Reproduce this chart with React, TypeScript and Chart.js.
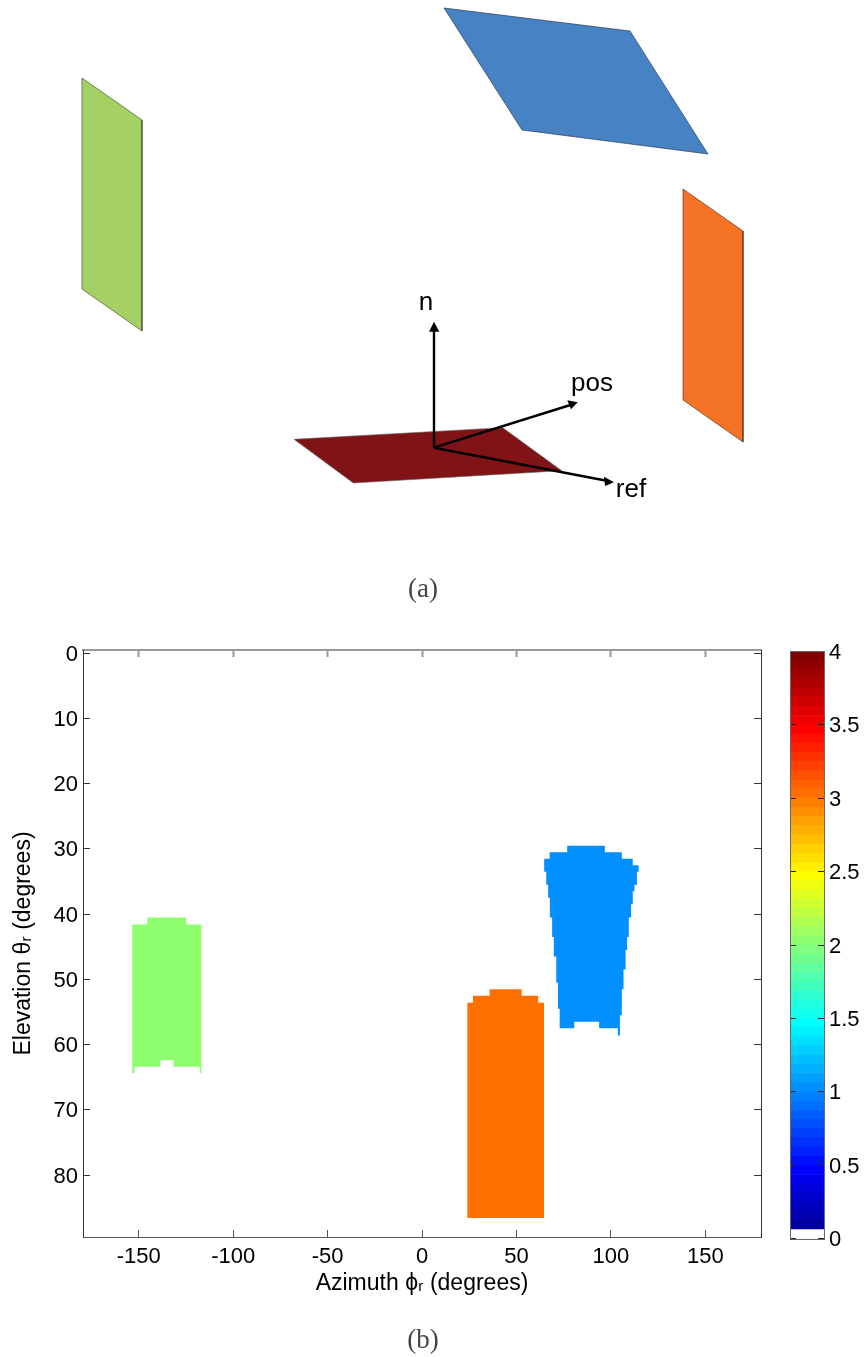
import React, { useEffect, useRef } from "react";
import { Chart, registerables } from "chart.js";

Chart.register(...registerables);

const FONT = "'Liberation Sans', Arial, sans-serif";

// ---------- panel (a): projected 3D scene, in scene units ----------
const sceneBlue = [{ x: 444, y: 8 }, { x: 630, y: 31 }, { x: 708, y: 154 }, { x: 522, y: 130 }, { x: 444, y: 8 }];
const sceneGreen = [{ x: 82, y: 78 }, { x: 142, y: 120 }, { x: 142, y: 331 }, { x: 82, y: 289 }, { x: 82, y: 78 }];
const sceneOrange = [{ x: 683, y: 189 }, { x: 743, y: 231 }, { x: 743, y: 442 }, { x: 683, y: 400 }, { x: 683, y: 189 }];
const sceneRed = [{ x: 294, y: 439.3 }, { x: 502.7, y: 427.7 }, { x: 561.7, y: 470.7 }, { x: 353.3, y: 483 }, { x: 294, y: 439.3 }];
const arrowN = [{ x: 434, y: 447.7 }, { x: 434, y: 326 }];
const arrowPos = [{ x: 434, y: 447.7 }, { x: 572, y: 404.5 }];
const arrowRef = [{ x: 434, y: 447.7 }, { x: 608, y: 481 }];
const headN = [{ x: 434, y: 321.7 }, { x: 429, y: 331.7 }, { x: 439.3, y: 331.7 }, { x: 434, y: 321.7 }];
const headPos = [{ x: 577.7, y: 402.3 }, { x: 567.3, y: 400.3 }, { x: 571, y: 409.3 }, { x: 577.7, y: 402.3 }];
const headRef = [{ x: 614, y: 482.3 }, { x: 604, y: 476.7 }, { x: 605, y: 486 }, { x: 614, y: 482.3 }];
const sceneLabels = [
  { text: "n", x: 426, y: 303 },
  { text: "pos", x: 592, y: 384 },
  { text: "ref", x: 631, y: 490 },
];

// ---------- panel (b): regions (azimuth, elevation) ----------
const greenRegion = [
  [-145.5, 40.5], [-124.9, 40.5], [-124.9, 41.6], [-116.8, 41.6], [-116.8, 64.4], [-117.7, 64.4],
  [-117.7, 63.4], [-131.6, 63.4], [-131.6, 62.4], [-138.6, 62.4], [-138.6, 63.4], [-152.2, 63.4],
  [-152.2, 64.4], [-153.4, 64.4], [-153.4, 41.6], [-145.5, 41.6], [-145.5, 40.5],
];
const blueRegion = [
  [76.9, 29.5], [96.8, 29.5], [96.8, 30.5], [105.8, 30.5], [105.8, 31.5], [111.6, 31.5], [111.6, 32.5],
  [114.7, 32.5], [114.7, 33.5], [113.8, 33.5], [113.8, 35.5], [112.5, 35.5], [112.5, 36.5], [111.6, 36.5],
  [111.6, 38.5], [110.7, 38.5], [110.7, 40.5], [109.5, 40.5], [109.5, 43.5], [108.6, 43.5], [108.6, 45.5],
  [107.8, 45.5], [107.8, 48.5], [106.7, 48.5], [106.7, 51.5], [105.8, 51.5], [105.8, 55.5], [104.8, 55.5],
  [104.8, 58.6], [103.7, 58.6], [103.7, 57.5], [93.8, 57.5], [93.8, 56.5], [80.6, 56.5], [80.6, 57.5],
  [72.9, 57.5], [72.9, 54.5], [72, 54.5], [72, 50.5], [71.1, 50.5], [71.1, 46.5], [69.8, 46.5], [69.8, 43.5],
  [68.9, 43.5], [68.9, 40.5], [67.7, 40.5], [67.7, 37.5], [66.8, 37.5], [66.8, 35.5], [65.8, 35.5],
  [65.8, 33.5], [64.7, 33.5], [64.7, 31.5], [67.6, 31.5], [67.6, 30.5], [76.9, 30.5], [76.9, 29.5],
];
const orangeRegion = [
  [35.8, 51.5], [52.8, 51.5], [52.8, 52.5], [61.5, 52.5], [61.5, 53.6], [64.6, 53.6], [64.6, 86.6],
  [24, 86.6], [24, 53.6], [27, 53.6], [27, 52.5], [35.8, 52.5], [35.8, 51.5],
];
const azimuthTicks = [-150, -100, -50, 0, 50, 100, 150];
const elevationTicks = [0, 10, 20, 30, 40, 50, 60, 70, 80];
const colorbarTicks = [0, 0.5, 1, 1.5, 2, 2.5, 3, 3.5, 4];

// ---------- colour bar levels, bottom to top ----------
const levelStep = 0.0625;
const levelColors = [
  "#ffffff", "#00009f", "#0000af", "#0000bf", "#0000cf", "#0000df", "#0000ef", "#0000ff",
  "#0010ff", "#0020ff", "#0030ff", "#0040ff", "#0050ff", "#0060ff", "#0070ff", "#0080ff",
  "#008fff", "#009fff", "#00afff", "#00bfff", "#00cfff", "#00dfff", "#00efff", "#00ffff",
  "#10ffef", "#20ffdf", "#30ffcf", "#40ffbf", "#50ffaf", "#60ff9f", "#70ff8f", "#80ff80",
  "#8fff70", "#9fff60", "#afff50", "#bfff40", "#cfff30", "#dfff20", "#efff10", "#ffff00",
  "#ffef00", "#ffdf00", "#ffcf00", "#ffbf00", "#ffaf00", "#ff9f00", "#ff8f00", "#ff8000",
  "#ff7000", "#ff6000", "#ff5000", "#ff4000", "#ff3000", "#ff2000", "#ff1000", "#ff0000",
  "#ef0000", "#df0000", "#cf0000", "#bf0000", "#af0000", "#9f0000", "#8f0000", "#800000",
];

const toPoints = (pairs: number[][]) => pairs.map(([x, y]) => ({ x, y }));

const poly = (data: any[], fillColor: string, edge = "transparent", edgeWidth = 0) => ({
  type: "scatter" as const,
  data,
  showLine: true,
  fill: "shape",
  backgroundColor: fillColor,
  borderColor: edge,
  borderWidth: edgeWidth,
  pointRadius: 0,
  tension: 0,
});
const line = (data: any[]) => ({
  type: "scatter" as const,
  data,
  showLine: true,
  fill: false,
  borderColor: "#000000",
  borderWidth: 2.4,
  pointRadius: 0,
  tension: 0,
});

const framePlugin = {
  id: "frame",
  afterDraw(chart: any) {
    const { left, top, width, height } = chart.chartArea;
    const ctx = chart.ctx;
    ctx.save();
    ctx.strokeStyle = "#666666";
    ctx.lineWidth = 1;
    ctx.strokeRect(Math.round(left) + 0.5, Math.round(top) + 0.5, Math.round(width), Math.round(height));
    ctx.restore();
  },
};

// Digits sit a little above the tick with a "middle" baseline; centre them on it.
const labelNudgePlugin = {
  id: "labelNudge",
  beforeDraw(chart: any) {
    for (const id of Object.keys(chart.scales)) {
      const s = chart.scales[id];
      if (s.isHorizontal() || !s.options.ticks.display) continue;
      for (const item of s.getLabelItems(chart.chartArea)) {
        if (item.nudged) continue;
        item.nudged = true;
        item.options.translation = [item.options.translation[0], item.options.translation[1] + 1.5];
      }
    }
  },
};

const sceneLabelPlugin = {
  id: "sceneLabels",
  afterDatasetsDraw(chart: any) {
    const ctx = chart.ctx;
    ctx.save();
    ctx.fillStyle = "#000";
    ctx.font = `26px ${FONT}`;
    ctx.textAlign = "center";
    ctx.textBaseline = "middle";
    for (const l of sceneLabels) {
      ctx.fillText(l.text, chart.scales.x.getPixelForValue(l.x), chart.scales.y.getPixelForValue(l.y));
    }
    ctx.restore();
  },
};

function makeScene(c: HTMLCanvasElement) {
  return new Chart(c, {
    type: "scatter",
    data: {
      // the first dataset is painted last
      datasets: [
        poly(headN, "#000000"),
        poly(headPos, "#000000"),
        poly(headRef, "#000000"),
        line(arrowN),
        line(arrowPos),
        line(arrowRef),
        poly(sceneRed, "#7f1315", "#666666", 0.6),
        poly(sceneOrange, "#f57325", "#3f2410", 0.6),
        poly(sceneGreen, "#a5d164", "#2f3f1f", 0.6),
        poly(sceneBlue, "#4682c4", "#1a2a3a", 0.6),
      ] as any,
    },
    options: {
      animation: false,
      responsive: false,
      layout: { padding: 0 },
      plugins: { legend: { display: false }, tooltip: { enabled: false } },
      scales: {
        x: { type: "linear", min: 0, max: 865, display: false },
        y: { type: "linear", min: 0, max: 620, reverse: true, display: false },
      },
    },
    plugins: [sceneLabelPlugin],
  } as any);
}

function makeMap(c: HTMLCanvasElement) {
  return new Chart(c, {
    type: "scatter",
    data: {
      datasets: [
        poly(toPoints(greenRegion), levelColors[32]),
        poly(toPoints(blueRegion), levelColors[16]),
        poly(toPoints(orangeRegion), levelColors[48]),
      ] as any,
    },
    options: {
      animation: false,
      responsive: false,
      layout: { padding: { left: 0, right: 19, top: 30, bottom: 0 } },
      plugins: { legend: { display: false }, tooltip: { enabled: false } },
      scales: {
        x: {
          type: "linear",
          min: -179.5,
          max: 179.5,
          afterBuildTicks: (s: any) => { s.ticks = azimuthTicks.map((value) => ({ value })); },
          afterFit: (s: any) => { s.height = 120; },
          ticks: { font: { family: FONT, size: 22 }, color: "#000", padding: 14, maxRotation: 0, autoSkip: false },
          grid: { drawOnChartArea: false, tickLength: -7, tickColor: "#555", z: 1 },
          border: { color: "#555", z: 2 },
          title: { display: true, text: "Azimuth ϕᵣ (degrees)", font: { family: FONT, size: 23 }, color: "#000", padding: { top: 0, bottom: 60 } },
        },
        xTop: {
          type: "linear",
          axis: "x",
          position: "top",
          min: -179.5,
          max: 179.5,
          afterBuildTicks: (s: any) => { s.ticks = azimuthTicks.map((value) => ({ value })); },
          afterFit: (s: any) => { s.height = 0; },
          ticks: { display: false },
          grid: { drawOnChartArea: false, tickLength: -7, tickColor: "#999", tickWidth: 2, z: 1 },
          border: { color: "#999", width: 2, z: 2 },
        },
        y: {
          type: "linear",
          min: -0.5,
          max: 89.5,
          reverse: true,
          afterBuildTicks: (s: any) => { s.ticks = elevationTicks.map((value) => ({ value })); },
          afterFit: (s: any) => { s.width = 83; },
          ticks: { font: { family: FONT, size: 22 }, color: "#000", padding: 12, autoSkip: false },
          grid: { drawOnChartArea: false, tickLength: -7, tickColor: "#333", z: 1 },
          border: { color: "#333", z: 2 },
          title: { display: true, text: "Elevation θᵣ (degrees)", font: { family: FONT, size: 23 }, color: "#000", padding: { top: 10, bottom: 0 } },
        },
        yRight: {
          type: "linear",
          axis: "y",
          position: "right",
          min: -0.5,
          max: 89.5,
          reverse: true,
          afterBuildTicks: (s: any) => { s.ticks = elevationTicks.map((value) => ({ value })); },
          afterFit: (s: any) => { s.width = 0; },
          ticks: { display: false },
          grid: { drawOnChartArea: false, tickLength: -7, tickColor: "#333", z: 1 },
          border: { color: "#333", z: 2 },
        },
      },
    },
    plugins: [labelNudgePlugin],
  } as any);
}

function makeBar(c: HTMLCanvasElement) {
  return new Chart(c, {
    type: "bar",
    data: {
      labels: ["level"],
      datasets: levelColors.map((color) => ({
        data: [levelStep],
        backgroundColor: color,
        borderWidth: 0,
        stack: "bar",
        barPercentage: 1,
        categoryPercentage: 1,
      })),
    },
    options: {
      animation: false,
      responsive: false,
      layout: { padding: 0 },
      plugins: { legend: { display: false }, tooltip: { enabled: false } },
      scales: {
        x: { display: false, stacked: true, offset: true },
        y: {
          type: "linear",
          position: "right",
          stacked: true,
          min: 0,
          max: 4,
          afterBuildTicks: (s: any) => { s.ticks = colorbarTicks.map((value) => ({ value })); },
          afterFit: (s: any) => { s.width = 41; },
          ticks: { font: { family: FONT, size: 22 }, color: "#000", padding: 11, autoSkip: false, callback: (v: any) => String(v) },
          grid: { drawOnChartArea: false, tickLength: -6, tickColor: "#222", z: 1 },
          border: { color: "#666", z: 2 },
        },
        yLeft: {
          type: "linear",
          position: "left",
          min: 0,
          max: 4,
          afterBuildTicks: (s: any) => { s.ticks = colorbarTicks.map((value) => ({ value })); },
          afterFit: (s: any) => { s.width = 10; },
          ticks: { display: false },
          grid: { drawOnChartArea: false, tickLength: -6, tickColor: "#222", z: 1 },
          border: { color: "#666", z: 2 },
        },
      },
    },
    plugins: [framePlugin, labelNudgePlugin],
  } as any);
}

const captionStyle = (top: number): React.CSSProperties => ({
  position: "absolute",
  left: 0,
  width: 846,
  top,
  textAlign: "center",
  fontFamily: "'Liberation Serif', serif",
  fontSize: 27,
  color: "#444",
  lineHeight: "30px",
});

export default function App() {
  const a = useRef<HTMLCanvasElement>(null);
  const b = useRef<HTMLCanvasElement>(null);
  const d = useRef<HTMLCanvasElement>(null);
  useEffect(() => {
    const charts = [makeScene(a.current!), makeMap(b.current!), makeBar(d.current!)];
    return () => charts.forEach((ch) => ch.destroy());
  }, []);
  return (
    <div style={{ position: "absolute", left: 0, top: 0, width: 865, height: 1357, overflow: "hidden", background: "#fff" }}>
      <canvas ref={a} width={865} height={620} style={{ position: "absolute", left: 0, top: 0 }} />
      <canvas ref={b} width={780} height={737} style={{ position: "absolute", left: 0, top: 620 }} />
      <canvas ref={d} width={85} height={636} style={{ position: "absolute", left: 780, top: 627 }} />
      <div style={captionStyle(573)}>(a)</div>
      <div style={captionStyle(1324)}>(b)</div>
    </div>
  );
}
